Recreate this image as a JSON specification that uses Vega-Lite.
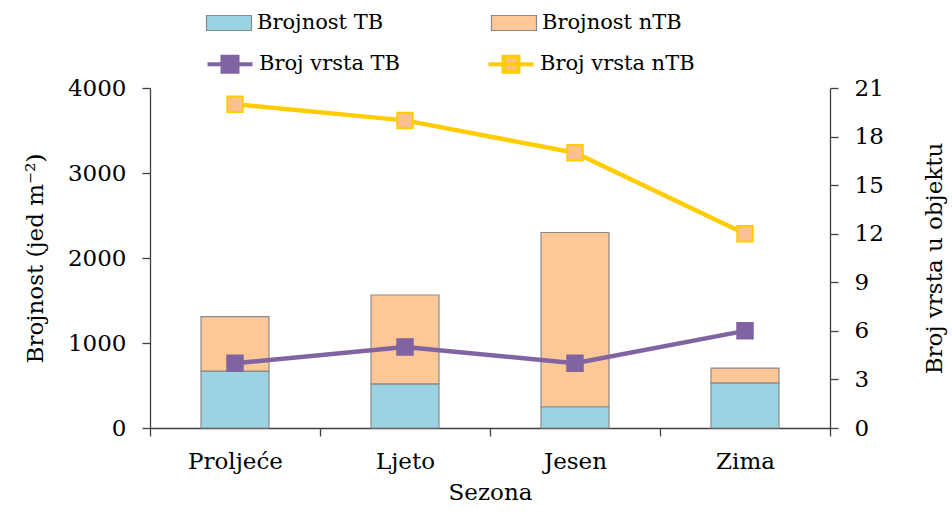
{
  "$schema": "https://vega.github.io/schema/vega-lite/v6.json",
  "width": 680,
  "height": 340,
  "autosize": {"type": "none"},
  "padding": {"left": 150, "top": 88, "right": 122, "bottom": 92},
  "background": "white",
  "config": {
    "view": {"stroke": null},
    "font": "DejaVu Serif",
    "axis": {
      "labelFont": "DejaVu Serif",
      "titleFont": "DejaVu Serif",
      "labelFontSize": 23,
      "titleFontSize": 23,
      "titleFontWeight": "normal",
      "labelColor": "#000000",
      "titleColor": "#000000",
      "domainColor": "#404040",
      "tickColor": "#404040",
      "domainWidth": 1.3,
      "tickWidth": 1.3,
      "tickSize": 8,
      "grid": false
    },
    "legend": {"labelFont": "DejaVu Serif", "labelFontSize": 21, "labelColor": "#000000", "padding": 0}
  },
  "datasets": {
    "bars": [
      {"sezona": "Proljeće", "grupa": "Brojnost TB", "ord": 1, "brojnost": 670},
      {"sezona": "Proljeće", "grupa": "Brojnost nTB", "ord": 2, "brojnost": 640},
      {"sezona": "Ljeto", "grupa": "Brojnost TB", "ord": 1, "brojnost": 520},
      {"sezona": "Ljeto", "grupa": "Brojnost nTB", "ord": 2, "brojnost": 1045},
      {"sezona": "Jesen", "grupa": "Brojnost TB", "ord": 1, "brojnost": 250},
      {"sezona": "Jesen", "grupa": "Brojnost nTB", "ord": 2, "brojnost": 2050},
      {"sezona": "Zima", "grupa": "Brojnost TB", "ord": 1, "brojnost": 530},
      {"sezona": "Zima", "grupa": "Brojnost nTB", "ord": 2, "brojnost": 175}
    ],
    "lines": [
      {"sezona": "Proljeće", "serija": "Broj vrsta TB", "broj": 4},
      {"sezona": "Ljeto", "serija": "Broj vrsta TB", "broj": 5},
      {"sezona": "Jesen", "serija": "Broj vrsta TB", "broj": 4},
      {"sezona": "Zima", "serija": "Broj vrsta TB", "broj": 6},
      {"sezona": "Proljeće", "serija": "Broj vrsta nTB", "broj": 20},
      {"sezona": "Ljeto", "serija": "Broj vrsta nTB", "broj": 19},
      {"sezona": "Jesen", "serija": "Broj vrsta nTB", "broj": 17},
      {"sezona": "Zima", "serija": "Broj vrsta nTB", "broj": 12}
    ]
  },
  "layer": [
    {
      "data": {"name": "bars"},
      "mark": {"type": "bar", "width": {"band": 0.4}, "stroke": "#8a8a8a", "strokeWidth": 1.2},
      "encoding": {
        "x": {
          "field": "sezona", "type": "nominal",
          "sort": ["Proljeće", "Ljeto", "Jesen", "Zima"],
          "scale": {"paddingInner": 0, "paddingOuter": 0},
          "axis": {"title": "Sezona", "titleFont": "DejaVu Serif", "labelFont": "DejaVu Serif", "labelAngle": 0, "tickBand": "extent", "labelPadding": 14, "titlePadding": 8}
        },
        "y": {
          "field": "brojnost", "type": "quantitative", "stack": "zero",
          "scale": {"domain": [0, 4000]},
          "axis": {"title": "Brojnost (jed m⁻²)", "titleFont": "DejaVu Serif", "labelFont": "DejaVu Serif", "format": "d", "values": [0, 1000, 2000, 3000, 4000], "labelPadding": 16, "titlePadding": 20}
        },
        "fill": {
          "field": "grupa", "type": "nominal",
          "scale": {"domain": ["Brojnost TB", "Brojnost nTB"], "range": ["#9BD3E3", "#FDC797"]},
          "legend": {
            "title": null, "orient": "none", "legendX": 63, "legendY": -81,
            "columns": 2, "columnPadding": 105,
            "labelFont": "DejaVu Serif", "labelFontSize": 21,
            "symbolType": "M-1.5,-0.5H1.5V0.5H-1.5Z", "symbolSize": 900,
            "symbolStrokeColor": "#8a8a8a", "symbolStrokeWidth": 1.2,
            "labelOffset": 12
          }
        },
        "order": {"field": "ord", "type": "quantitative"}
      }
    },
    {
      "data": {"name": "lines"},
      "encoding": {
        "x": {"field": "sezona", "type": "nominal", "sort": ["Proljeće", "Ljeto", "Jesen", "Zima"]},
        "y": {
          "field": "broj", "type": "quantitative",
          "scale": {"domain": [0, 21]},
          "axis": {"orient": "right", "title": "Broj vrsta u objektu", "titleFont": "DejaVu Serif", "labelFont": "DejaVu Serif", "values": [0, 3, 6, 9, 12, 15, 18, 21], "titleAngle": 270, "labelPadding": 16, "titlePadding": 63}
        }
      },
      "layer": [
        {
          "mark": {"type": "line", "strokeWidth": 4.5},
          "encoding": {
            "stroke": {
              "field": "serija", "type": "nominal",
              "scale": {"domain": ["Broj vrsta TB", "Broj vrsta nTB"], "range": ["#8064A2", "#FFCC00"]},
              "legend": {
                "title": null, "orient": "none", "legendX": 63, "legendY": -41,
                "columns": 2, "columnPadding": 79,
                "labelFont": "DejaVu Serif", "labelFontSize": 21,
                "symbolType": "M-1.5,0H1.5M-0.5,-0.5H0.5V0.5H-0.5Z", "symbolSize": 900,
                "symbolStrokeWidth": 4,
                "labelOffset": 12,
                "encode": {"symbols": {"update": {"fill": {"signal": "datum.value === 'Broj vrsta nTB' ? '#FAC090' : '#8064A2'"}, "strokeWidth": {"value": 4}}}}
              }
            }
          }
        },
        {
          "mark": {"type": "square", "size": 240, "opacity": 1, "strokeWidth": 2},
          "encoding": {
            "stroke": {"field": "serija", "type": "nominal"},
            "fill": {
              "field": "serija", "type": "nominal",
              "scale": {"domain": ["Broj vrsta TB", "Broj vrsta nTB"], "range": ["#8064A2", "#FAC090"]},
              "legend": null
            }
          }
        }
      ]
    }
  ],
  "resolve": {"scale": {"y": "independent", "fill": "independent"}}
}
